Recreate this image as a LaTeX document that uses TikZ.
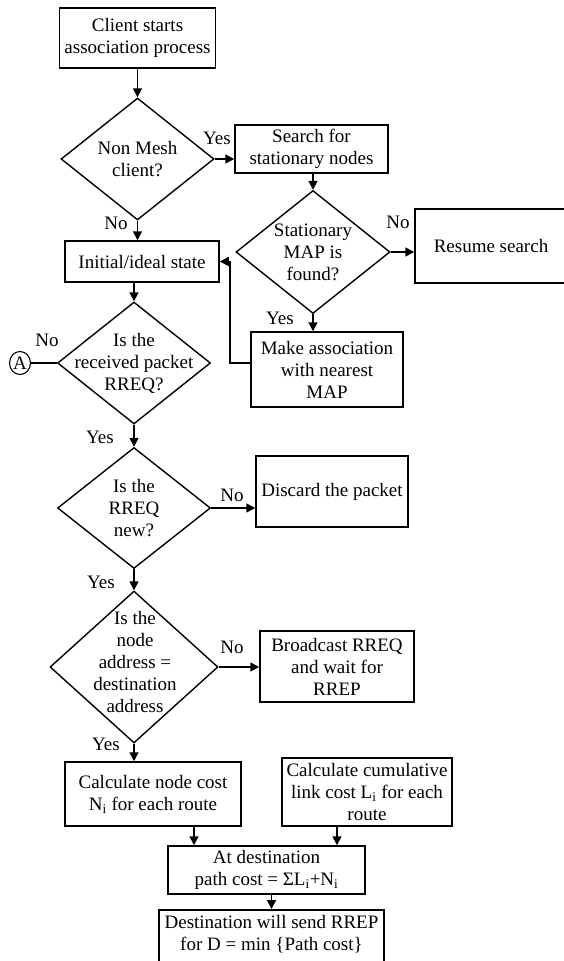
\documentclass[tikz,border=0pt]{standalone}
\usepackage{fontspec}
\setmainfont{Liberation Serif}
\usetikzlibrary{shapes.geometric,arrows.meta}
\begin{document}
\begin{tikzpicture}[x=1pt,y=-1pt,
  every node/.style={font=\fontsize{19}{22}\selectfont},
  box/.style={draw, line width=1.5pt, rectangle, inner sep=0pt, align=center},
  dia/.style={draw, line width=1.4pt, diamond, inner sep=0pt},
  txt/.style={align=center, inner sep=0pt},
  lab/.style={inner sep=0pt},
  arr/.style={line width=1.6pt, -{Triangle[length=9pt,width=9pt]}},
  ln/.style={line width=1.6pt}]
\useasboundingbox (0,0) rectangle (564,961);

% boxes
\node[box, minimum width=156pt, minimum height=60pt] (b1) at (137.5,38) {Client starts\\association process};
\node[box, minimum width=153pt, minimum height=48pt] (b2) at (311.5,149) {Search for\\stationary nodes};
\node[box, minimum width=152pt, minimum height=74pt] (b3) at (491,246) {Resume search};
\node[box, minimum width=154pt, minimum height=41pt] (b4) at (142,261.5) {Initial/ideal state};
\node[box, minimum width=152pt, minimum height=75pt] (b5) at (327,369.5) {Make association\\with nearest\\MAP};
\node[box, minimum width=152pt, minimum height=71pt] (b6) at (332,491.5) {Discard the packet};
\node[box, minimum width=154pt, minimum height=71pt] (b7) at (337,666.5) {Broadcast RREQ\\and wait for\\RREP};
\node[box, minimum width=176pt, minimum height=64pt] (b8) at (153,794) {Calculate node cost\\N\textsubscript{i} for each route};
\node[box, minimum width=170pt, minimum height=68pt] (b9) at (367,792) {Calculate cumulative\\link cost L\textsubscript{i} for each\\route};
\node[box, minimum width=197pt, minimum height=48pt] (b10) at (266.5,870) {At destination\\path cost = ΣL\textsubscript{i}+N\textsubscript{i}};
\node[box, anchor=north, minimum width=225pt, minimum height=64pt] (b11) at (271.5,909) {};
\node[txt] (b11t) at (271.5,934) {Destination will send RREP\\for D = min \{Path cost\}};

% diamonds
\node[dia, minimum width=153pt, minimum height=122pt] (d1) at (137.5,159) {};
\node[txt] at (d1) {Non Mesh\\client?};
\node[dia, minimum width=154pt, minimum height=123pt] (d2) at (313,252) {};
\node[txt] at (d2) {Stationary\\MAP is\\found?};
\node[dia, minimum width=153pt, minimum height=122pt] (d3) at (134,363) {};
\node[txt] at (d3) {Is the\\received packet\\RREQ?};
\node[dia, minimum width=153pt, minimum height=121pt] (d4) at (134,508) {};
\node[txt] at (d4) {Is the\\RREQ\\new?};
\node[dia, minimum width=168pt, minimum height=152pt] (d5) at (134,667) {};
\node[txt] at (135,662) {Is the\\node\\address =\\destination\\address};

% connector A
\node[draw, ellipse, line width=1.1pt, minimum width=21pt, minimum height=23pt, inner sep=0pt] (A) at (20,363) {A};

% connectors
\draw[arr] (b1.south) -- (d1.north);
\draw[arr] (d1.east) -- (d1.east -| b2.west);
\draw[arr] (b2.south -| d2.north) -- (d2.north);
\draw[arr] (d2.east) -- (d2.east -| b3.west);
\draw[arr] (d1.south) -- (d1.south |- b4.north);
\draw[arr] (b4.south -| d3.north) -- (d3.north);
\draw[arr] (d2.south) -- (d2.south |- b5.north);
\coordinate (fb) at (230,363);
\draw[arr] (b5.west |- fb) -- (fb) |- (b4.east);
\draw[ln] (A) -- (d3.west);
\draw[arr] (d3.south) -- (d4.north);
\draw[arr] (d4.east) -- (d4.east -| b6.west);
\draw[arr] (d4.south) -- (d5.north);
\draw[arr] (d5.east) -- (d5.east -| b7.west);
\draw[arr] (d5.south) -- (d5.south |- b8.north);
\draw[arr] ([xshift=41pt]b8.south) -- ([xshift=41pt]b8.south |- b10.north);
\draw[arr] ([xshift=-30pt]b9.south) -- ([xshift=-30pt]b9.south |- b10.north);
\draw[arr] (b10.south -| b11.north) -- (b11.north);

% labels
\node[lab] at (217,138) {Yes};
\node[lab] at (398,222) {No};
\node[lab] at (116,223) {No};
\node[lab] at (280,318) {Yes};
\node[lab] at (47,340) {No};
\node[lab] at (100,437) {Yes};
\node[lab] at (232,495) {No};
\node[lab] at (101,582) {Yes};
\node[lab] at (232,647) {No};
\node[lab] at (106,744) {Yes};
\end{tikzpicture}
\end{document}
